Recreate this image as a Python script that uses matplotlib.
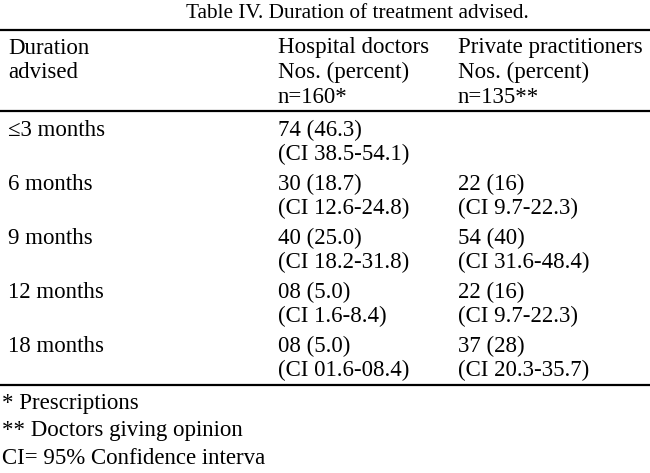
import matplotlib.pyplot as plt

durations = ['≤3 months', '6 months', '9 months', '12 months', '18 months']
hosp_n = ['74', '30', '40', '08', '08']
hosp_pct = ['46.3', '18.7', '25.0', '5.0', '5.0']
hosp_ci = ['38.5-54.1', '12.6-24.8', '18.2-31.8', '1.6-8.4', '01.6-08.4']
priv_n = ['', '22', '54', '22', '37']
priv_pct = ['', '16', '40', '16', '28']
priv_ci = ['', '9.7-22.3', '31.6-48.4', '9.7-22.3', '20.3-35.7']

title = 'Table IV. Duration of treatment advised.'
head_cols = [['Duration', 'advised'],
             ['Hospital doctors', 'Nos. (percent)', 'n=160*'],
             ['Private practitioners', 'Nos. (percent)', 'n=135**']]
notes = ['* Prescriptions', '** Doctors giving opinion', 'CI= 95% Confidence interva']

plt.rcParams['font.family'] = ['Liberation Serif', 'DejaVu Serif']

fig = plt.figure(figsize=(6.5, 4.73), dpi=100)
ax = fig.add_axes([0, 0, 1, 1])
ax.set_xlim(0, 650)
ax.set_ylim(473, 0)
ax.axis('off')

fs = 16.5
col_x = [8, 278, 458]

ax.text(357, 14, title, ha='center', va='center', fontsize=15.3)

# rules of the table
for y, lw in [(30, 1.6), (111, 1.6), (385, 1.6)]:
    ax.plot([0, 650], [y, y], color='black', lw=lw)

for x, lines in zip(col_x, head_cols):
    for i, s in enumerate(lines):
        ax.text(x, 48 + i * 24.5, s, ha='left', va='center', fontsize=fs)

for i, d in enumerate(durations):
    y = 130 + i * 54
    ax.text(col_x[0], y, d, ha='left', va='center', fontsize=fs)
    ax.text(col_x[1], y, f'{hosp_n[i]} ({hosp_pct[i]})', ha='left', va='center', fontsize=fs)
    ax.text(col_x[1], y + 24, f'(CI {hosp_ci[i]})', ha='left', va='center', fontsize=fs)
    if priv_n[i]:
        ax.text(col_x[2], y, f'{priv_n[i]} ({priv_pct[i]})', ha='left', va='center', fontsize=fs)
        ax.text(col_x[2], y + 24, f'(CI {priv_ci[i]})', ha='left', va='center', fontsize=fs)

for i, s in enumerate(notes):
    ax.text(2, 403 + i * 27.5, s, ha='left', va='center', fontsize=fs)

fig.savefig('out.png', dpi=100)
